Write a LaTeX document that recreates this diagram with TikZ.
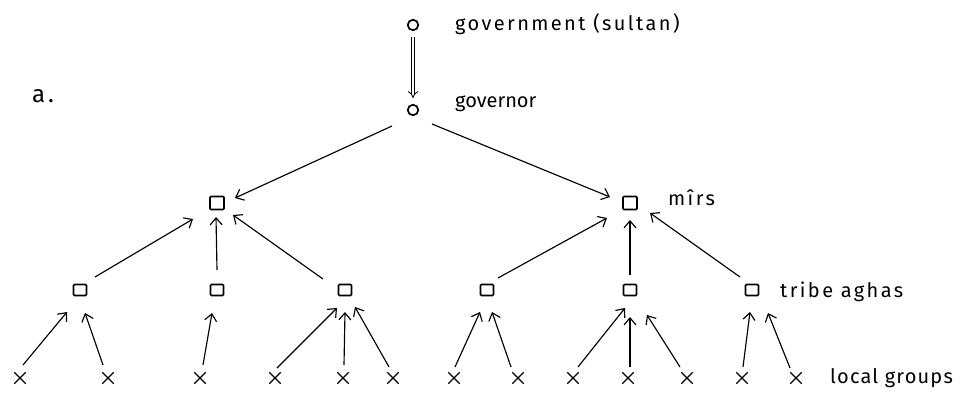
\documentclass[tikz,border=0pt]{standalone}
\usepackage{fontspec}
\setmainfont[LetterSpace=12]{Fira Sans}
\newfontfamily\plainlab{Fira Sans}
\newfontfamily\semilab[LetterSpace=6]{Fira Sans}
\usetikzlibrary{arrows.meta,shapes.misc,calc}
\tikzset{
  circ/.style={circle, draw, line width=1.7pt, minimum size=10.5pt, inner sep=0pt},
  mirbox/.style={rectangle, draw, line width=1.6pt, minimum width=14pt, minimum height=13pt, inner sep=0pt, rounded corners=1pt},
  aghabox/.style={rectangle, draw, line width=1.6pt, minimum width=13pt, minimum height=11pt, inner sep=0pt, rounded corners=1pt},
  grp/.style={cross out, draw, line width=1.3pt, minimum size=10pt, inner sep=0pt},
  arr/.style={line width=1.15pt, -{Straight Barb[length=7pt,width=12pt,line width=1.15pt]}},
  lab/.style={anchor=base west, inner sep=0pt, font=\fontsize{20}{24}\selectfont}
}
\begin{document}
\begin{tikzpicture}[x=1pt,y=-1pt]
\useasboundingbox (0,0) rectangle (962,399);

% hierarchy nodes
\node[circ] (gov) at (413,25) {};
\node[circ] (gvr) at (413,110) {};
\node[mirbox] (m1) at (217,203) {};
\node[mirbox] (m2) at (630,203) {};
\foreach \n/\x in {1/80,2/217,3/345,4/487,5/630,6/752}
  \node[aghabox] (t\n) at (\x,290) {};
\foreach \n/\x in {1/20,2/108,3/200,4/275,5/343,6/393,7/454,8/518,9/573,10/628,11/687,12/742,13/796}
  \node[grp] (x\n) at (\x,378) {};

% labels
\node[lab, font=\fontsize{24}{28}\selectfont] (la) at (32,102) {a.};
\node[lab] (lgov) at (455,30) {government (sultan)};
\node[lab, font=\fontsize{20}{24}\plainlab] (lgvr) at (455,107) {governor};
\node[lab] (lmir) at (668,205) {m\^{\i}rs};
\node[lab] (lagha) at (780,297) {tribe aghas};
\node[lab, font=\fontsize{20}{24}\semilab] (lgrp) at (830,383) {local groups};

% sultan to governor
\draw[line width=0.9pt, double distance=2.6pt, -{Implies[scale=1.5]}]
  ($(gov)+(0,12)$) -- ($(gvr)+(0,-12)$);

% governor to mirs
\draw[arr] ($(gvr)+(-21,16)$) -- ($(m1)+(18,-5)$);
\draw[arr] ($(gvr)+(19,14)$) -- ($(m2)+(-20,-6)$);

% tribe aghas to mirs
\draw[arr] ($(t1)+(15,-13)$) -- ($(m1)+(-24,16)$);
\draw[arr] ($(t2)+(0,-20)$) -- ($(m1)+(-1,14)$);
\draw[arr] ($(t3)+(-22,-11)$) -- ($(m1)+(16,12)$);
\draw[arr] ($(t4)+(11,-12)$) -- ($(m2)+(-23,15)$);
\draw[arr] ($(t5)+(0,-15)$) -- ($(m2)+(0,17)$);
\draw[arr] ($(t6)+(-12,-13)$) -- ($(m2)+(20,10)$);

% local groups to tribe aghas
\draw[arr] ($(x1)+(3,-13)$) -- ($(t1)+(-13,22)$);
\draw[arr] ($(x2)+(-5,-13)$) -- ($(t1)+(5,23)$);
\draw[arr] ($(x3)+(3,-13)$) -- ($(t2)+(-5,23)$);
\draw[arr] ($(x4)+(2,-10)$) -- ($(t3)+(-8,18)$);
\draw[arr] ($(x5)+(1,-13)$) -- ($(t3)+(0,22)$);
\draw[arr] ($(x6)+(-4,-11)$) -- ($(t3)+(10,17)$);
\draw[arr] ($(x7)+(1,-11)$) -- ($(t4)+(-7,22)$);
\draw[arr] ($(x8)+(-7,-11)$) -- ($(t4)+(5,22)$);
\draw[arr] ($(x9)+(5,-11)$) -- ($(t5)+(-5,18)$);
\draw[arr] ($(x10)+(2,-11)$) -- ($(t5)+(0,27)$);
\draw[arr] ($(x11)+(-7,-11)$) -- ($(t5)+(17,25)$);
\draw[arr] ($(x12)+(1,-11)$) -- ($(t6)+(-2,22)$);
\draw[arr] ($(x13)+(-6,-10)$) -- ($(t6)+(16,23)$);
\end{tikzpicture}
\end{document}
